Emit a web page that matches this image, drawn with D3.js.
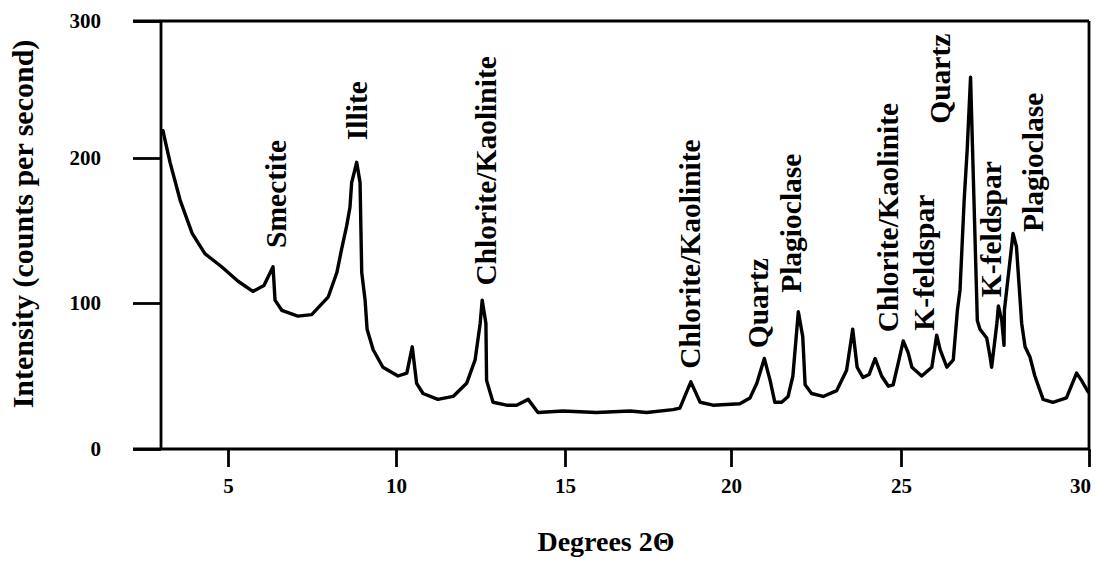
<!DOCTYPE html>
<html>
<head>
<meta charset="utf-8">
<script src="https://cdn.jsdelivr.net/npm/d3@7"></script>
<style>
  html, body { margin: 0; padding: 0; background: #fff; }
  svg { display: block; }
</style>
</head>
<body>
<svg id="chart" width="1097" height="563"></svg>
<script>
// ---- data ----
const degrees = [3.06,3.12,3.27,3.57,3.93,4.31,4.81,5.30,5.74,6.07,6.34,6.40,6.60,7.08,7.49,7.98,8.24,8.38,8.53,8.63,8.68,8.83,8.93,8.98,9.08,9.14,9.32,9.61,10.06,10.32,10.48,10.61,10.80,11.24,11.69,12.09,12.34,12.49,12.55,12.66,12.68,12.87,13.27,13.57,13.91,14.20,14.94,15.95,16.96,17.46,18.25,18.46,18.79,19.07,19.46,20.26,20.56,20.76,20.98,21.15,21.29,21.49,21.68,21.82,21.98,22.11,22.18,22.37,22.71,23.11,23.40,23.58,23.71,23.88,24.06,24.24,24.43,24.63,24.77,24.92,25.06,25.19,25.29,25.55,25.82,25.95,26.04,26.22,26.39,26.50,26.57,26.68,26.76,26.85,26.92,27.03,27.10,27.28,27.37,27.41,27.55,27.59,27.68,27.74,27.75,27.85,27.98,28.07,28.21,28.30,28.43,28.56,28.78,29.04,29.40,29.67,29.80,29.98];
const intensity = [220,213,197,171,148,134,125,115,108,112,125,102,95,91,92,104,121,137,153,166,183,197,183,121,102,82,68,56,50,52,70,45,38,34,36,45,61,86,102,86,47,32,30,30,34,25,26,25,26,25,27,28,46,32,30,31,35,45,62,47,32,32,36,50,94,77,44,38,36,40,54,82,56,49,51,62,50,43,44,59,74,66,56,50,56,78,68,56,61,95,109,171,206,259,190,88,82,76,63,56,86,98,88,71,95,118,148,139,86,70,63,50,34,32,35,52,47,39];

const peakNames = ["Smectite","Illite","Chlorite/Kaolinite","Chlorite/Kaolinite","Quartz","Plagioclase","Chlorite/Kaolinite","K-feldspar","Quartz","K-feldspar","Plagioclase"];
const peakDegrees = [6.73,9.14,12.96,19.07,21.09,22.06,24.91,25.88,26.31,27.66,28.78];
const peakLabelBase = [138,213,112,55,69,107,80,81,225,104,149];

const xTicks = [5,10,15,20,25,30];
const yTicks = [0,100,200,300];
const xTitle = "Degrees 2\u0398";
const yTitle = "Intensity (counts per second)";

// ---- drawing ----
const svg = d3.select("#chart");
const FONT = "'Liberation Serif', 'Times New Roman', serif";

const x = d3.scaleLinear().domain([3,5,10,15,20,25,30]).range([161,228,396,565,731,901,1089]);
const y = d3.scaleLinear().domain([0,100,200,300]).range([449,303,158,21]);

// frame
const frame = svg.append("g").attr("stroke","#000").attr("stroke-width",2.8).attr("fill","none");
frame.append("line").attr("x1",133).attr("x2",x(30)).attr("y1",y(300)).attr("y2",y(300));
frame.append("line").attr("x1",133).attr("x2",x(30)).attr("y1",y(0)).attr("y2",y(0));
frame.append("line").attr("x1",x(3)).attr("x2",x(3)).attr("y1",y(300)).attr("y2",y(0));
frame.append("line").attr("x1",x(30)).attr("x2",x(30)).attr("y1",y(300)).attr("y2",y(0));

// axes
const yAxis = svg.append("g").attr("transform",`translate(${x(3)},0)`)
  .call(d3.axisLeft(y).tickValues(yTicks).tickSize(28).tickPadding(32).tickFormat(d3.format("d")));
yAxis.select(".domain").remove();
yAxis.selectAll(".tick line").attr("stroke","#000").attr("stroke-width",2.8);
yAxis.selectAll(".tick text").attr("font-family",FONT).attr("font-weight","bold").attr("font-size",21).attr("fill","#000");

const xAxis = svg.append("g").attr("transform",`translate(0,${y(0)})`)
  .call(d3.axisBottom(x).tickValues(xTicks).tickSize(18).tickPadding(11).tickFormat(d3.format("d")));
xAxis.select(".domain").remove();
xAxis.selectAll(".tick line").attr("stroke","#000").attr("stroke-width",2.8);
xAxis.selectAll(".tick text").attr("font-family",FONT).attr("font-weight","bold").attr("font-size",21).attr("fill","#000")
  .attr("dx", d => d === 30 ? -9 : 0);

// curve
const pts = degrees.map((d,i)=>[d,intensity[i]]);
svg.append("path").datum(pts)
  .attr("fill","none").attr("stroke","#000").attr("stroke-width",3.4)
  .attr("stroke-linejoin","round").attr("stroke-linecap","round")
  .attr("d", d3.line().x(d=>x(d[0])).y(d=>y(d[1])));

// peak labels
svg.append("g").selectAll("text").data(peakNames).join("text")
  .attr("transform",(d,i)=>`translate(${x(peakDegrees[i])},${y(peakLabelBase[i])}) rotate(-90)`)
  .attr("font-family",FONT).attr("font-weight","bold").attr("font-size",29.5)
  .attr("fill","#000").attr("text-anchor","start")
  .text(d=>d);

// titles
svg.append("text").attr("x",606).attr("y",551).attr("text-anchor","middle")
  .attr("font-family",FONT).attr("font-weight","bold").attr("font-size",28).text(xTitle);
svg.append("text").attr("transform","translate(33,224) rotate(-90)").attr("text-anchor","middle")
  .attr("font-family",FONT).attr("font-weight","bold").attr("font-size",30).text(yTitle);
</script>
</body>
</html>
